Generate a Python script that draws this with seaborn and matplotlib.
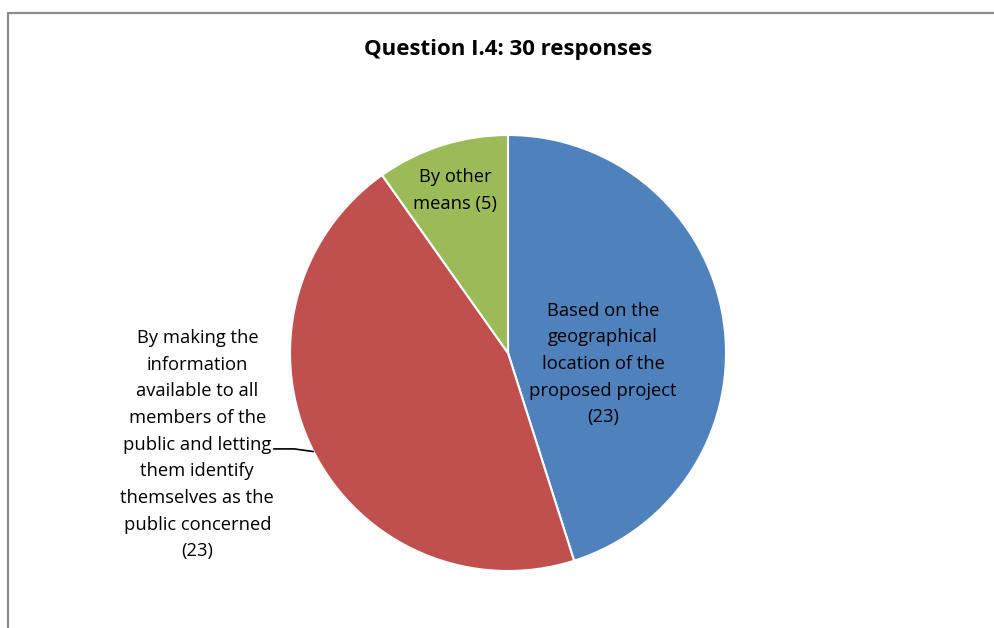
"""Question I.4 pie chart."""

import matplotlib.pyplot as plt
import numpy as np
import seaborn as sns
from matplotlib.patches import Rectangle

sns.set_theme(style="white")
plt.rcParams["font.family"] = ["Open Sans", "DejaVu Sans"]

# data
categories = [
    "Based on the\ngeographical\nlocation of the\nproposed project",
    "By making the\ninformation\navailable to all\nmembers of the\npublic and letting\nthem identify\nthemselves as the\npublic concerned",
    "By other\nmeans",
]
counts = [23, 23, 5]
colors = ["#4F81BD", "#C0504D", "#9BBB59"]
title = "Question I.4: 30 responses"

W, H = 994, 628
fig = plt.figure(figsize=(W / 100, H / 100), dpi=100)

# chart frame (cropped on right/bottom)
fig.patches.append(
    Rectangle((8 / W, -0.1), 1.2, (H - 13) / H + 0.1, transform=fig.transFigure,
              fill=False, edgecolor="#8c8c8c", lw=1.6)
)

ax = fig.add_axes([290 / W, 57 / H, 436 / W, 436 / H])
wedges, _ = ax.pie(
    counts,
    colors=colors,
    startangle=90,
    counterclock=False,
    wedgeprops=dict(edgecolor="white", linewidth=1.5),
)
ax.set_xlim(-1, 1)
ax.set_ylim(-1, 1)
ax.set_aspect("equal")
ax.axis("off")

labels = [f"{c}\n({n})" if i != 2 else f"{c} ({n})" for i, (c, n) in enumerate(zip(categories, counts))]
label_pos = [(0.436, -0.05), (-1.425, -0.42), (-0.243, 0.745)]
for lab, (x, y) in zip(labels, label_pos):
    ax.text(x, y, lab, ha="center", va="center", fontsize=13.2,
            linespacing=1.62, color="#000000", clip_on=False)

# leader line for the red slice label
ax.plot([-1.075, -0.98, -0.893], [-0.44, -0.44, -0.452], color="black", lw=1.2,
        clip_on=False)

fig.text(508 / W, 1 - 49 / H, title, ha="center", va="center", fontsize=16,
         fontweight="bold", color="#000000")

fig.savefig("out.png", dpi=100)
plt.close(fig)
